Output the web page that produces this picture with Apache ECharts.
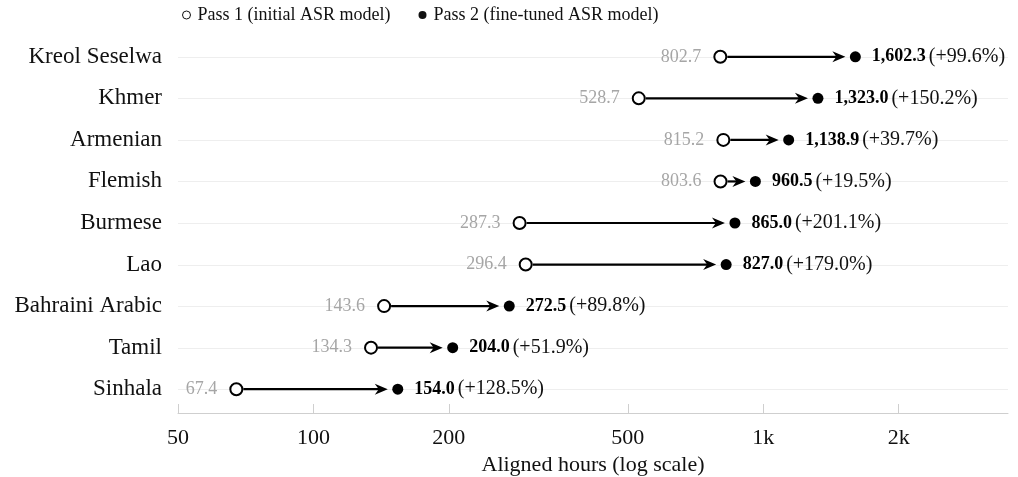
<!DOCTYPE html>
<html>
<head>
<meta charset="utf-8">
<script src="https://cdn.jsdelivr.net/npm/echarts@6/dist/echarts.min.js"></script>
<style>
html,body{margin:0;padding:0;background:#fff;}
#chart{width:1018px;height:477px;}
</style>
</head>
<body>
<div id="chart"></div>
<script>
const languages = ['Kreol Seselwa', 'Khmer', 'Armenian', 'Flemish', 'Burmese', 'Lao', 'Bahraini Arabic', 'Tamil', 'Sinhala'];
const pass1Hours = [802.7, 528.7, 815.2, 803.6, 287.3, 296.4, 143.6, 134.3, 67.4];
const pass2Hours = [1602.3, 1323.0, 1138.9, 960.5, 865.0, 827.0, 272.5, 204.0, 154.0];
const xTickValues = [50, 100, 200, 500, 1000, 2000];

const FONT = 'Liberation Serif';
const fmt1 = v => v.toLocaleString('en-US', {minimumFractionDigits: 1, maximumFractionDigits: 1});

const chart = echarts.init(document.getElementById('chart'), null, {renderer: 'canvas'});

const arrowData = languages.map((l, i) => [pass1Hours[i], pass2Hours[i], i]);

const option = {
  animation: false,
  backgroundColor: '#fff',
  textStyle: {fontFamily: FONT},
  legend: {
    left: 182, top: 6, padding: 0,
    itemWidth: 8, itemHeight: 8, itemGap: 28,
    textStyle: {fontFamily: FONT, fontSize: 18, color: '#111', padding: [0, 0, 0, 2]},
    data: [
      {name: 'Pass 1 (initial ASR model)', icon: 'circle', itemStyle: {color: '#fff', borderColor: '#111', borderWidth: 1}},
      {name: 'Pass 2 (fine-tuned ASR model)', icon: 'circle', itemStyle: {color: '#111'}}
    ]
  },
  grid: {left: 178, right: 10, top: 36, bottom: 67, containLabel: false, outerBoundsMode: 'none'},
  xAxis: {
    type: 'log', logBase: 10, min: 50, max: 3500,
    offset: 3,
    axisLine: {show: true, lineStyle: {color: '#cfcfcf', width: 1}},
    axisTick: {show: true, inside: true, length: 9, lineStyle: {color: '#cfcfcf'}, customValues: xTickValues},
    axisLabel: {
      customValues: xTickValues, margin: 14,
      fontFamily: FONT, fontSize: 22, color: '#111',
      formatter: v => v >= 1000 ? (v / 1000) + 'k' : String(v)
    },
    splitLine: {show: false},
    minorTick: {show: false},
    name: 'Aligned hours (log scale)', nameLocation: 'middle', nameGap: 41,
    nameTextStyle: {fontFamily: FONT, fontSize: 22, color: '#111'}
  },
  yAxis: {
    type: 'category', data: languages, inverse: true, boundaryGap: true,
    axisLine: {show: false}, axisTick: {show: false}, splitLine: {show: false},
    axisLabel: {fontFamily: FONT, fontSize: 23, color: '#111', margin: 16}
  },
  series: [
    {
      type: 'custom', name: 'grid', z: 0, silent: true,
      encode: {x: 0, y: 2},
      data: arrowData,
      renderItem: function (params, api) {
        const a = api.coord([api.value(0), api.value(2)]);
        const cs = params.coordSys;
        return {
          type: 'line',
          shape: {x1: cs.x, y1: Math.round(a[1]) + 0.5, x2: cs.x + cs.width, y2: Math.round(a[1]) + 0.5},
          style: {stroke: '#eeeeee', lineWidth: 1}
        };
      }
    },
    {
      type: 'custom', name: 'arrows', z: 2, silent: true,
      encode: {x: [0, 1], y: 2},
      data: arrowData,
      renderItem: function (params, api) {
        const a = api.coord([api.value(0), api.value(2)]);
        const b = api.coord([api.value(1), api.value(2)]);
        const y = a[1];
        const tip = b[0] - 10;
        return {
          type: 'group',
          children: [
            {type: 'line', shape: {x1: a[0] + 7, y1: y, x2: tip - 7, y2: y}, style: {stroke: '#000', lineWidth: 2.2}},
            {type: 'polygon', shape: {points: [[tip, y], [tip - 13, y - 5.5], [tip - 9, y], [tip - 13, y + 5.5]]}, style: {fill: '#000'}}
          ]
        };
      }
    },
    {
      type: 'scatter', name: 'Pass 1 (initial ASR model)', z: 3,
      symbol: 'circle', symbolSize: 12,
      itemStyle: {color: '#fff', borderColor: '#000', borderWidth: 2, opacity: 1},
      data: languages.map((l, i) => [pass1Hours[i], l]),
      label: {
        show: true, position: 'left', distance: 12,
        fontFamily: FONT, fontSize: 18, color: '#a6a6a6',
        formatter: p => fmt1(p.value[0])
      }
    },
    {
      type: 'scatter', name: 'Pass 2 (fine-tuned ASR model)', z: 3,
      symbol: 'circle', symbolSize: 11,
      itemStyle: {color: '#000', opacity: 1},
      data: languages.map((l, i) => [pass2Hours[i], l]),
      label: {
        show: true, position: 'right', distance: 11,
        formatter: p => {
          const i = p.dataIndex;
          const pct = (pass2Hours[i] / pass1Hours[i] - 1) * 100;
          return '{b|' + fmt1(pass2Hours[i]) + '} {n|(+' + pct.toFixed(1) + '%)}';
        },
        rich: {
          b: {fontFamily: FONT, fontSize: 18, fontWeight: 'bold', color: '#000'},
          n: {fontFamily: FONT, fontSize: 20, color: '#111'}
        }
      }
    }
  ]
};
chart.setOption(option);
</script>
</body>
</html>
